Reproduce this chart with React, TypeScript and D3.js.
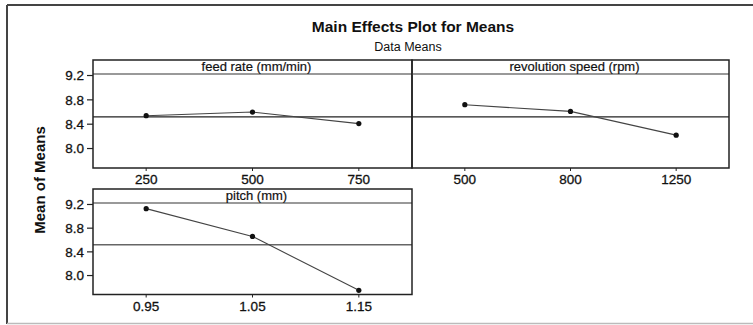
import React from "react";
import { scaleLinear, scalePoint, line } from "d3";

// factor levels and the mean response at each level
const feedLevels = ["250", "500", "750"];
const feedMeans = [8.54, 8.6, 8.41];
const speedLevels = ["500", "800", "1250"];
const speedMeans = [8.72, 8.61, 8.22];
const pitchLevels = ["0.95", "1.05", "1.15"];
const pitchMeans = [9.13, 8.66, 7.75];
const grandMean = 8.52;
const yTicks = [8.0, 8.4, 8.8, 9.2];
const yDomain = [7.68, 9.225];

const font = "Arial, 'Liberation Sans', Helvetica, sans-serif";

type PanelProps = {
  title: string;
  levels: string[];
  means: number[];
  x0: number;
  x1: number;
  top: number;
  bottom: number;
  showY: boolean;
  meanColor: string;
};

function Panel(props: PanelProps) {
  const { title, levels, means, x0, x1, top, bottom, showY, meanColor } = props;
  const stripH = 14;
  const dataTop = top + stripH;

  const x = scalePoint<string>().domain(levels).range([x0, x1]).padding(0.5);
  const y = scaleLinear().domain(yDomain).range([bottom, dataTop]);

  const pts = levels.map((l, i) => [x(l) as number, y(means[i])] as [number, number]);
  const path = line()(pts) || "";

  return (
    <g>
      {/* strip line + grand mean reference */}
      <line x1={x0} x2={x1} y1={dataTop} y2={dataTop} stroke="#777" strokeWidth={1.3} />
      <line x1={x0} x2={x1} y1={y(grandMean)} y2={y(grandMean)} stroke={meanColor} strokeWidth={1.3} />

      <path d={path} fill="none" stroke="#444" strokeWidth={1.1} />
      {pts.map((p, i) => (
        <circle key={i} cx={p[0]} cy={p[1]} r={2.6} fill="#111" />
      ))}

      <rect x={x0} y={top} width={x1 - x0} height={bottom - top} fill="none" stroke="#222" strokeWidth={1.5} />

      <text x={(x0 + x1) / 2 + 4} y={top + 11} textAnchor="middle" fontSize={13} fontFamily={font} fill="#111" stroke="#111" strokeWidth={0.2}>
        {title}
      </text>

      {levels.map((l) => (
        <g key={l}>
          <line x1={x(l)} x2={x(l)} y1={bottom} y2={bottom + 3} stroke="#222" strokeWidth={1} />
          <text x={x(l)} y={bottom + 16} textAnchor="middle" fontSize={13.5} fontFamily={font} fill="#111" stroke="#111" strokeWidth={0.3}>
            {l}
          </text>
        </g>
      ))}

      {showY &&
        yTicks.map((t) => (
          <g key={t}>
            <line x1={x0 - 6} x2={x0} y1={y(t)} y2={y(t)} stroke="#222" strokeWidth={1.2} />
            <text x={x0 - 9} y={y(t)} dy="0.36em" textAnchor="end" fontSize={13.5} fontFamily={font} fill="#111" stroke="#111" strokeWidth={0.3}>
              {t.toFixed(1)}
            </text>
          </g>
        ))}
    </g>
  );
}

export default function App() {
  const W = 753;
  const H = 325;
  return (
    <svg width={W} height={H} style={{ position: "absolute", left: 0, top: 0, background: "#fff" }}>
      {/* outer frame */}
      <line x1={7} x2={W} y1={5} y2={5} stroke="#444" strokeWidth={2} />
      <line x1={7} x2={7} y1={5} y2={324} stroke="#444" strokeWidth={2} />
      <line x1={7} x2={W} y1={323.5} y2={323.5} stroke="#bbb" strokeWidth={1.5} />

      <text x={413} y={32} textAnchor="middle" fontSize={15.5} fontWeight="bold" fontFamily={font} fill="#111">
        Main Effects Plot for Means
      </text>
      <text x={408} y={51} textAnchor="middle" fontSize={12.5} fontFamily={font} fill="#111">
        Data Means
      </text>

      <text
        transform="translate(45,180) rotate(-90)"
        textAnchor="middle"
        fontSize={15}
        fontWeight="bold"
        fontFamily={font}
        fill="#111"
      >
        Mean of Means
      </text>

      <Panel title="feed rate (mm/min)" levels={feedLevels} means={feedMeans} x0={93} x1={412} top={60} bottom={168} showY={true} meanColor="#222" />
      <Panel title="revolution speed (rpm)" levels={speedLevels} means={speedMeans} x0={412} x1={729} top={60} bottom={168} showY={false} meanColor="#222" />
      <Panel title="pitch (mm)" levels={pitchLevels} means={pitchMeans} x0={93} x1={412} top={189} bottom={294.5} showY={true} meanColor="#666" />
    </svg>
  );
}
